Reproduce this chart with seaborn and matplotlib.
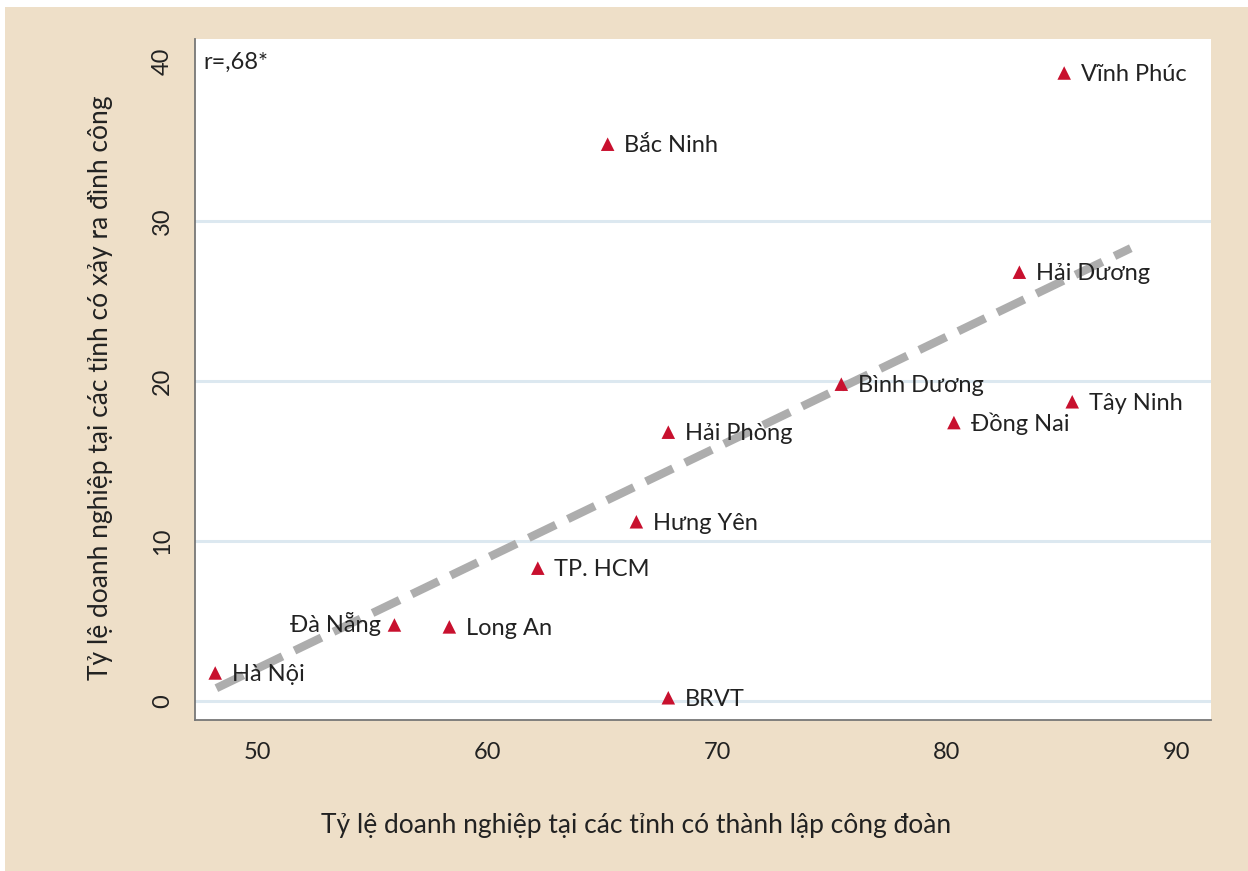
import matplotlib
matplotlib.use("Agg")
import matplotlib.pyplot as plt
import seaborn as sns
import pandas as pd
from matplotlib.patches import Rectangle

provinces = ["Hà Nội", "Đà Nẵng", "Long An", "TP. HCM", "Hưng Yên", "BRVT",
             "Hải Phòng", "Bắc Ninh", "Bình Dương", "Đồng Nai", "Hải Dương",
             "Tây Ninh", "Vĩnh Phúc"]
union_rate = [48.15, 55.95, 58.34, 62.19, 66.48, 67.87, 67.87, 65.23, 75.4,
              80.3, 83.15, 85.45, 85.1]
strike_rate = [1.75, 4.75, 4.63, 8.3, 11.2, 0.2, 16.8, 34.8, 19.8, 17.4,
               26.8, 18.7, 39.25]
fit_x = [48.2, 88.0]
fit_y = [0.8, 28.3]
xticks = [50, 60, 70, 80, 90]
yticks = [0, 10, 20, 30, 40]
grid_y = [0, 10, 20, 30]
left_labels = ["Đà Nẵng"]

df = pd.DataFrame({"province": provinces, "x": union_rate, "y": strike_rate})

sns.set_style("white")
plt.rcParams["font.family"] = ["Lato", "DejaVu Sans"]

BEIGE = "#EEDFC8"
W, H = 1248, 871
fig = plt.figure(figsize=(12.48, 8.71), dpi=100, facecolor="white")
fig.patches.append(Rectangle((5 / W, 0), 1, 1 - 7 / H, transform=fig.transFigure,
                             facecolor=BEIGE, edgecolor="none", zorder=-10))
ax = fig.add_axes([195 / W, 1 - 720 / H, (1211 - 195) / W, (720 - 39) / H])
ax.set_facecolor("white")

for g in grid_y:
    ax.axhline(g, color="#DCE8F0", lw=2.2, zorder=0)

ax.plot(fit_x, fit_y, color="#ADADAD", lw=6, dashes=(3.6, 1.6), zorder=1,
        solid_capstyle="butt", dash_capstyle="butt")

sns.scatterplot(data=df, x="x", y="y", marker="^", s=95, color="#C8102E",
                edgecolor="none", ax=ax, zorder=3, legend=False)

FS = 17
for p, xv, yv in zip(provinces, union_rate, strike_rate):
    if p in left_labels:
        ax.annotate(p, (xv, yv), xytext=(-10, 1), textcoords="offset points",
                    ha="right", va="center", fontsize=FS, color="#222222")
    else:
        ax.annotate(p, (xv, yv), xytext=(12, -1), textcoords="offset points",
                    ha="left", va="center", fontsize=FS, color="#222222")

ax.text(0.008, 0.966, "r=,68*", transform=ax.transAxes, fontsize=FS,
        color="#222222", ha="left", va="center")

ax.set_xlim(47.27, 91.49)
ax.set_ylim(-1.19, 41.375)
ax.set_xticks(xticks)
ax.set_yticks(yticks)
ax.tick_params(axis="both", direction="out", length=7, width=1.2, color="#333333",
               labelsize=FS, labelcolor="#222222", pad=9)
ax.tick_params(axis="y", labelrotation=90)
for lab in ax.get_yticklabels():
    lab.set_va("center")
for s in ["top", "right"]:
    ax.spines[s].set_visible(False)
for s in ["left", "bottom"]:
    ax.spines[s].set_color("#777777")
    ax.spines[s].set_linewidth(1.3)

ax.set_xlabel("")
ax.set_ylabel("")
fig.text(636 / W, 1 - 825 / H, "Tỷ lệ doanh nghiệp tại các tỉnh có thành lập công đoàn",
         fontsize=19, color="#222222", ha="center", va="center")
fig.text(101 / W, 1 - 388 / H, "Tỷ lệ doanh nghiệp tại các tỉnh có xảy ra đình công",
         fontsize=19, color="#222222", ha="center", va="center", rotation=90)

fig.savefig("out.png", dpi=100, facecolor=fig.get_facecolor())
